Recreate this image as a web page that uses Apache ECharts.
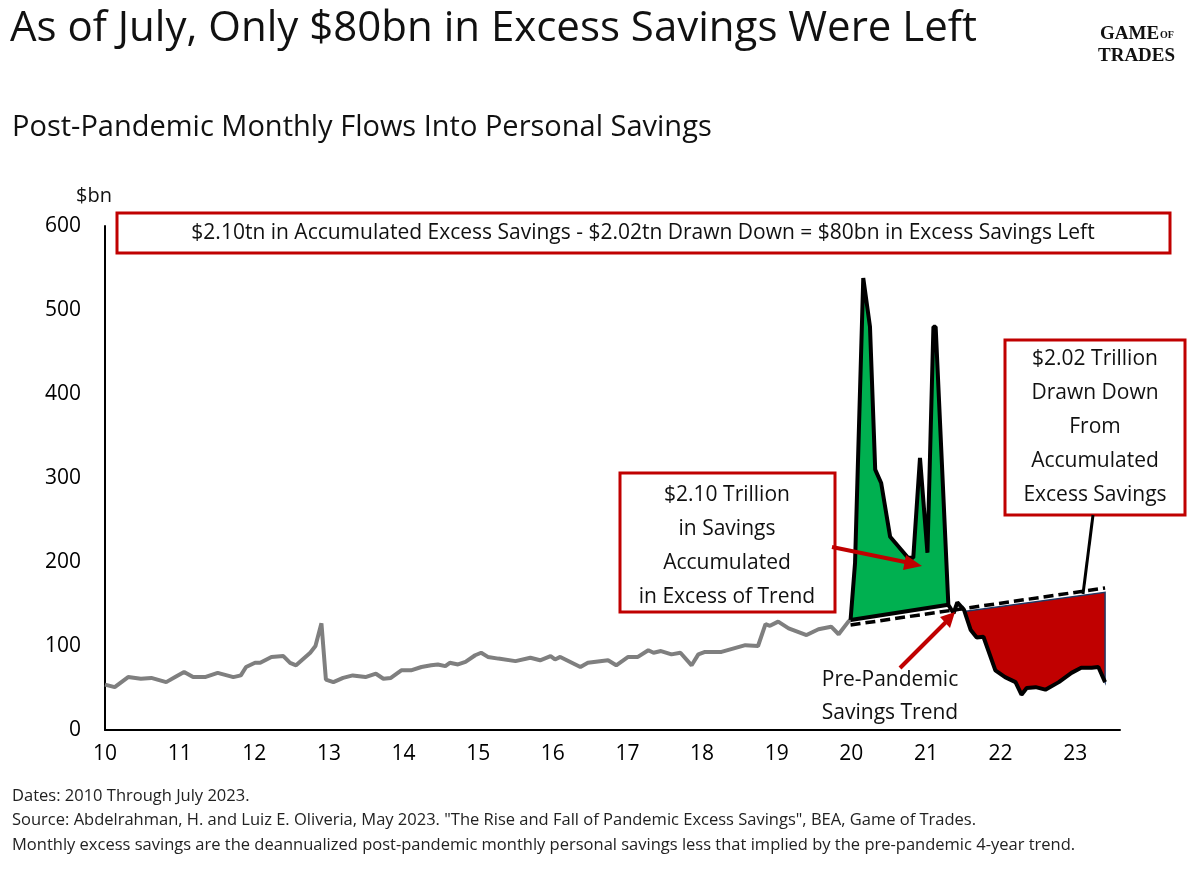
<!DOCTYPE html>
<html><head><meta charset="utf-8">
<script src="https://cdn.jsdelivr.net/npm/echarts@6/dist/echarts.min.js"></script>
<style>html,body{margin:0;background:#fff}#c{width:1200px;height:873px}</style>
</head><body><div id="c"></div>
<script>
// x = years since 2010
const grayX=[0,.13,.31,.48,.62,.82,.94,1.06,1.18,1.34,1.51,1.72,1.82,1.89,2.01,2.08,2.23,2.39,2.48,2.56,2.75,2.82,2.90,2.96,3.06,3.19,3.32,3.49,3.63,3.73,3.83,3.97,4.10,4.24,4.37,4.46,4.56,4.62,4.73,4.83,4.96,5.04,5.13,5.27,5.50,5.70,5.83,5.97,6.03,6.10,6.37,6.47,6.74,6.85,7.01,7.14,7.28,7.35,7.45,7.59,7.71,7.86,7.95,8.04,8.26,8.58,8.75,8.85,8.91,9.02,9.16,9.40,9.56,9.73,9.83,9.96,9.99];
const grayY=[54,51,63,61,62,57,63,69,63,63,68,63,65,75,80,80,87,88,80,77,92,100,127,60,57,62,65,63,67,61,62,71,71,75,77,78,76,80,78,81,89,92,87,85,82,86,83,88,84,87,75,80,83,77,87,87,95,92,94,90,92,77,90,93,93,101,100,126,124,129,121,113,120,123,114,129,131];
const blackX=[9.99,10.05,10.16,10.25,10.32,10.40,10.52,10.76,10.83,10.92,11.02,11.10,11.13,11.30,11.37,11.42,11.51,11.60,11.68,11.77,11.93,12.06,12.20,12.28,12.35,12.47,12.60,12.78,12.95,13.08,13.22,13.31,13.40];
const blackY=[131,199,538,480,310,294,230,205,205,324,211,480,480,149,139,152,143,119,110,111,71,63,57,42,50,51,48,57,68,74,74,75,57];
const greenBase=[[9.99,131],[11.30,149]];
const redTop=[[11.51,141],[13.40,164]];
const trend=[[9.99,125],[13.40,169]];
const yTicks=[0,100,200,300,400,500,600];

const gray=grayX.map((x,i)=>[x,grayY[i]]);
const black=blackX.map((x,i)=>[x,blackY[i]]);
const gIdx=blackX.indexOf(11.30), rIdx=blackX.indexOf(11.51);
const greenPoly=black.slice(0,gIdx+1).concat(greenBase.slice().reverse());
const redPoly=redTop.concat(black.slice(rIdx).reverse());
function poly(pts,fill,stroke,lw){
  return {type:'custom',data:[[0,0]],silent:true,z:2,
    renderItem:(p,api)=>({type:'polygon',shape:{points:pts.map(q=>api.coord(q))},style:{fill:fill,stroke:stroke,lineWidth:lw}})};
}
const ch=echarts.init(document.getElementById('c'));
const F='"Open Sans", "Noto Sans", sans-serif';
const T=(l,t,s,font,o)=>Object.assign({type:'text',left:l,top:t,style:{text:s,font:font,fill:'#111'}},o||{});
ch.setOption({
  animation:false,
  grid:{left:105,right:80,top:226,bottom:143},
  xAxis:{type:'value',min:0,max:13.6,interval:1,splitLine:{show:false},
    axisLine:{onZero:false,lineStyle:{color:'#000',width:2}},axisTick:{show:false},
    axisLabel:{showMaxLabel:false,formatter:v=>String(v+10),color:'#000',fontSize:21,fontFamily:F,margin:14}},
  yAxis:{type:'value',min:0,max:600,interval:100,splitLine:{show:false},
    axisLine:{show:true,lineStyle:{color:'#000',width:2}},axisTick:{show:false},
    axisLabel:{color:'#000',fontSize:21,fontFamily:F,margin:24,formatter:v=>yTicks.includes(v)?String(v):''}},
  series:[
    poly(greenPoly,'#00b050',null,0),
    poly(redPoly,'#c00000','#1f3864',1.5),
    {type:'line',data:gray,symbol:'none',lineStyle:{color:'#7f7f7f',width:4},z:3},
    {type:'line',data:black,symbol:'none',lineStyle:{color:'#000',width:4},z:4},
    {type:'line',data:greenBase,symbol:'none',lineStyle:{color:'#000',width:4},z:4},
    {type:'line',data:trend,symbol:'none',lineStyle:{color:'#000',width:3.5,type:[10,5]},z:5}
  ],
  graphic:[
    T(10,8,'As of July, Only $80bn in Excess Savings Were Left','42px '+F),
    T(1100,25,'GAME','bold 19px "Liberation Serif", serif'),
    T(1160,30,'OF','bold 10px "Liberation Serif", serif'),
    T(1098,47,'TRADES','bold 19px "Liberation Serif", serif'),
    T(12,113,'Post-Pandemic Monthly Flows Into Personal Savings','29px '+F),
    T(76,186,'$bn','20px '+F),
    {type:'rect',shape:{x:117,y:213,width:1053,height:40},style:{fill:'#fff',stroke:'#c00000',lineWidth:3},z:10},
    {type:'text',x:643,y:233,z:11,style:{text:'$2.10tn in Accumulated Excess Savings - $2.02tn Drawn Down = $80bn in Excess Savings Left',font:'21px '+F,fill:'#111',align:'center',verticalAlign:'middle'}},
    {type:'rect',shape:{x:620,y:473,width:215,height:139},style:{fill:'#fff',stroke:'#c00000',lineWidth:3},z:10},
    {type:'text',x:727,y:478,z:11,style:{text:'$2.10 Trillion\nin Savings\nAccumulated\nin Excess of Trend',font:'21px '+F,fill:'#111',align:'center',lineHeight:34}},
    {type:'rect',shape:{x:1005,y:340,width:180,height:175},style:{fill:'#fff',stroke:'#c00000',lineWidth:3},z:10},
    {type:'text',x:1095,y:342,z:11,style:{text:'$2.02 Trillion\nDrawn Down\nFrom\nAccumulated\nExcess Savings',font:'21px '+F,fill:'#111',align:'center',lineHeight:34}},
    {type:'text',x:890,y:664,z:11,style:{text:'Pre-Pandemic\nSavings Trend',font:'21px '+F,fill:'#111',align:'center',lineHeight:33}},
    {type:'line',shape:{x1:832,y1:547,x2:910,y2:563},style:{stroke:'#c00000',lineWidth:4},z:12},
    {type:'polygon',shape:{points:[[922,566],[906,555],[903,570]]},style:{fill:'#c00000'},z:12},
    {type:'line',shape:{x1:900,y1:668,x2:946,y2:622},style:{stroke:'#c00000',lineWidth:4},z:12},
    {type:'polygon',shape:{points:[[955,612],[940,617],[950,628]]},style:{fill:'#c00000'},z:12},
    {type:'line',shape:{x1:1093,y1:515,x2:1083,y2:594},style:{stroke:'#000',lineWidth:3},z:12},
    {type:'text',left:12,top:784,style:{text:'Dates: 2010 Through July 2023.\nSource: Abdelrahman, H. and Luiz E. Oliveria, May 2023. "The Rise and Fall of Pandemic Excess Savings", BEA, Game of Trades.\nMonthly excess savings are the deannualized post-pandemic monthly personal savings less that implied by the pre-pandemic 4-year trend.',font:'16.5px '+F,fill:'#222',lineHeight:24.5}}
  ]
});
</script></body></html>
